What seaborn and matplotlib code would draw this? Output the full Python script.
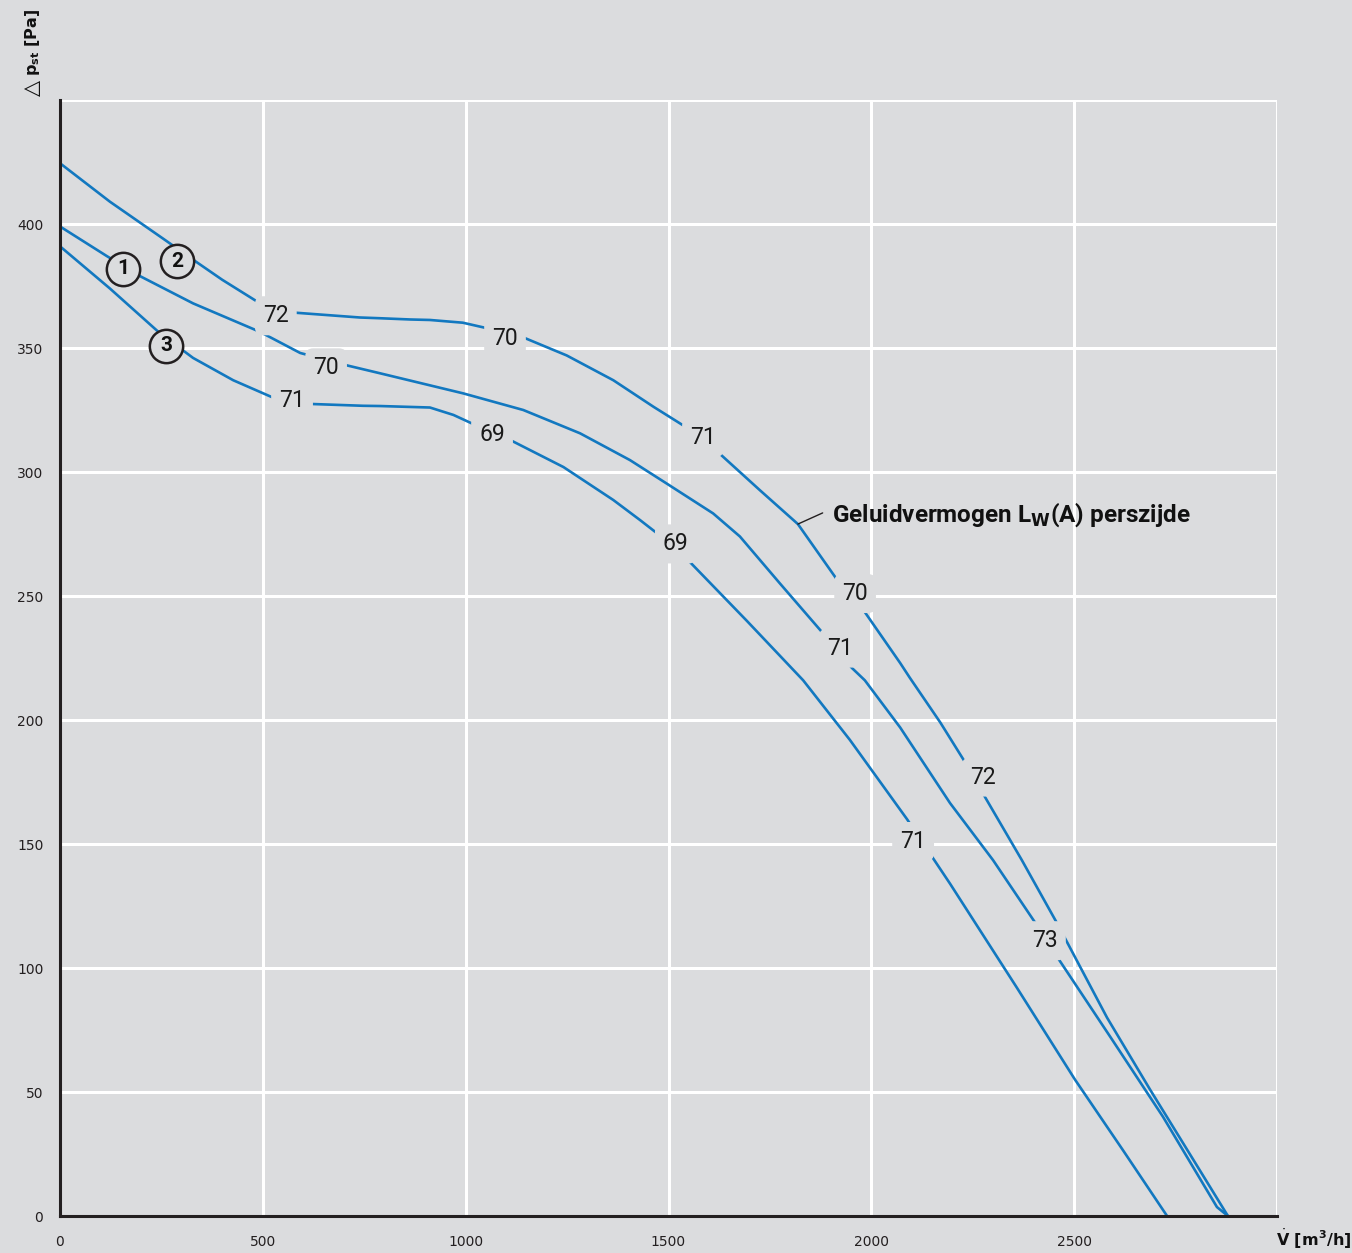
import numpy as np
import pandas as pd
import seaborn as sns
import matplotlib.pyplot as plt

# Fan characteristic curves: volume flow [m3/h] vs static pressure [Pa]
flow_1 = [0, 116, 197, 328, 493, 592, 707, 789, 994, 1142, 1282, 1405, 1495, 1610, 1676, 1775,
          1886, 1952, 1984, 2071, 2194, 2300, 2403, 2460, 2590, 2719, 2852, 2879]
pres_1 = [399, 387, 379, 368, 356.5, 348, 343, 339.8, 331.7, 325, 315.6, 304.8, 295.4, 283.3, 274, 255,
          234, 221, 216, 197, 166.5, 143.5, 118.5, 104, 72, 40, 3.6, 0]

flow_2 = [0, 123, 255, 329, 400, 493, 583, 739, 789, 863, 912, 993, 1052, 1146, 1249, 1364, 1463,
          1541, 1622, 1725, 1819, 1918, 1984, 2071, 2095, 2170, 2231, 2280, 2371, 2458, 2581, 2687,
          2785, 2879]
pres_2 = [424.5, 409, 394, 385.5, 377.5, 368, 364.2, 362.3, 362, 361.5, 361.3, 360.2, 358, 354, 347, 337, 326.3,
          318.3, 308, 292.7, 279, 256, 243.5, 223, 217, 199, 183, 169, 143.5, 118, 80, 51,
          25, 0]

flow_3 = [0, 123, 246, 328, 427, 525, 624, 747, 789, 912, 970, 1023, 1117, 1241, 1364, 1430, 1474,
          1548, 1693, 1832, 1947, 2088, 2145, 2194, 2359, 2502, 2620, 2729]
pres_3 = [391, 374, 356, 346, 337, 330, 327.4, 326.7, 326.6, 326, 323, 319, 312.3, 302, 288.7, 280.6, 275,
          264.5, 240, 216, 192, 160, 146, 134, 92, 55, 26.6, 0]

# Sound power level labels along each curve (flow, pressure, text)
lw_1 = [(656, 342, "70"), (1923, 229, "71"), (2428, 111, "73")]
lw_2 = [(532, 363, "72"), (1097, 354, "70"), (1585, 314, "71"), (1960, 251, "70"), (2275, 177, "72")]
lw_3 = [(572, 329, "71"), (1065, 315, "69"), (1518, 271, "69"), (2103, 151, "71")]

# Curve number markers (flow, pressure, number)
curve_ids = [(156, 382, "1"), (289, 385, "2"), (261, 351, "3")]

x_ticks = [0, 500, 1000, 1500, 2000, 2500, 3000]
x_labels = ["0", "500", "1000", "1500", "2000", "2500", ""]
y_ticks = [0, 50, 100, 150, 200, 250, 300, 350, 400, 450]
y_labels = ["0", "50", "100", "150", "200", "250", "300", "350", "400", ""]

BG = "#dbdcde"
BLUE = "#1278c0"
DARK = "#231f20"

sns.set_theme(style="white")
plt.rcParams["font.family"] = ["DejaVu Sans"]

fig = plt.figure(figsize=(13.52, 12.53), dpi=100, facecolor=BG)
ax = fig.add_axes([60 / 1352, 1 - 1216 / 1253, 1217 / 1352, 1116 / 1253])
ax.set_facecolor(BG)

df = pd.concat([
    pd.DataFrame({"flow": flow_1, "pressure": pres_1, "curve": "1"}),
    pd.DataFrame({"flow": flow_2, "pressure": pres_2, "curve": "2"}),
    pd.DataFrame({"flow": flow_3, "pressure": pres_3, "curve": "3"}),
], ignore_index=True)

sns.lineplot(data=df, x="flow", y="pressure", hue="curve", units="curve", estimator=None,
             sort=False, palette=[BLUE, BLUE, BLUE], linewidth=1.9, legend=False, ax=ax, zorder=3)
for ln in ax.lines:
    ln.set_solid_joinstyle("round")

ax.set_xlim(0, 3000)
ax.set_ylim(0, 450)
ax.set_xticks(x_ticks)
ax.set_xticklabels(x_labels)
ax.set_yticks(y_ticks)
ax.set_yticklabels(y_labels)
ax.grid(True, color="white", linewidth=2.2, zorder=0)
ax.set_axisbelow(True)
ax.tick_params(axis="both", length=0, labelsize=10, labelcolor=DARK)
ax.tick_params(axis="y", pad=12)
ax.tick_params(axis="x", pad=14)
ax.set_xlabel("")
ax.set_ylabel("")
for side in ["top", "right"]:
    ax.spines[side].set_visible(False)
for side in ["left", "bottom"]:
    ax.spines[side].set_color(DARK)
    ax.spines[side].set_linewidth(2.2)
    ax.spines[side].set_zorder(5)

# Sound power labels with masking background
for items in (lw_1, lw_2, lw_3):
    for fx, py, txt in items:
        ax.text(fx, py, txt, ha="center", va="center", fontsize=16.5, family="Roboto",
                color="#1a1a1a", zorder=6,
                bbox=dict(boxstyle="round,pad=0.35", facecolor=BG, edgecolor="none"))

# Curve number circles
for fx, py, txt in curve_ids:
    ax.plot([fx], [py], marker="o", markersize=24, markerfacecolor=BG,
            markeredgecolor=DARK, markeredgewidth=1.8, zorder=7, linestyle="none")
    ax.text(fx, py, txt, ha="center", va="center", fontsize=15, fontweight="bold",
            family="Roboto", color="#111111", zorder=8)

# Annotation for the sound power values
ax.plot([1819, 1880], [279, 283.5], color=DARK, linewidth=1.0, zorder=6)
ax.text(1903, 283, r"Geluidvermogen L$_{\mathbf{W}}$(A) perszijde", ha="left", va="center",
        fontsize=17.5, fontweight="bold", family="Roboto", color="#111111", zorder=6)

# Axis titles
fig.text(32 / 1352, 1 - 88 / 1253, "\u25b3", rotation=90, ha="center", va="center",
         fontsize=15, color="#111111")
fig.text(32 / 1352, 1 - 42 / 1253, r"p$_{\mathbf{st}}$ [Pa]", rotation=90,
         ha="center", va="center", fontsize=11.5, fontweight="bold", color="#111111")
fig.text(1314 / 1352, 1 - 1239 / 1253, r"$\dot{\mathbf{V}}$ [m$^{\mathbf{3}}$/h]",
         ha="center", va="center", fontsize=11.5, fontweight="bold", color="#111111")

fig.savefig("out.png", dpi=100, facecolor=BG)
